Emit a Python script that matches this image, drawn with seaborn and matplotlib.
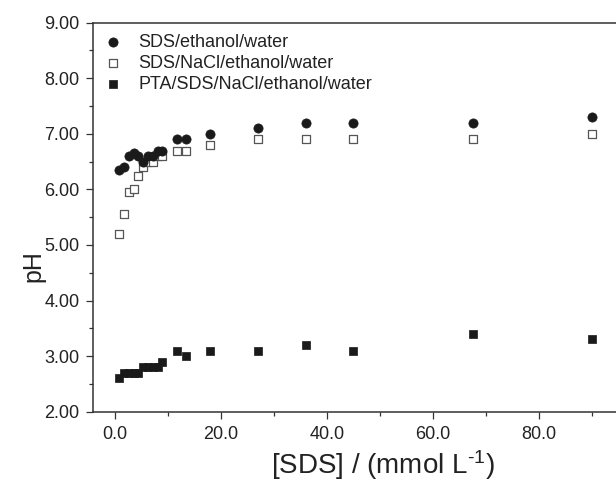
import matplotlib
matplotlib.use('Agg')
import matplotlib.pyplot as plt
import numpy as np
import pandas as pd
import seaborn as sns

# SDS concentration, mmol/L
sds = [0.9, 1.8, 2.7, 3.6, 4.5, 5.4, 6.3, 7.2, 8.1, 9.0, 11.7, 13.5, 18.0,
       27.0, 36.0, 45.0, 67.5, 90.0]

ph_sds = [6.35, 6.4, 6.6, 6.65, 6.6, 6.5, 6.6, 6.6, 6.7, 6.7, 6.9, 6.9, 7.0,
          7.1, 7.2, 7.2, 7.2, 7.3]
ph_nacl = [5.2, 5.55, 5.95, 6.0, 6.25, 6.4, 6.5, 6.5, 6.6, 6.6, 6.7, 6.7, 6.8,
           6.9, 6.9, 6.9, 6.9, 7.0]
ph_pta = [2.6, 2.7, 2.7, 2.7, 2.7, 2.8, 2.8, 2.8, 2.8, 2.9, 3.1, 3.0, 3.1,
          3.1, 3.2, 3.1, 3.4, 3.3]

labels = ['SDS/ethanol/water', 'SDS/NaCl/ethanol/water',
          'PTA/SDS/NaCl/ethanol/water']

sns.set_theme(style='ticks')
plt.rcParams['font.family'] = ['Liberation Sans', 'DejaVu Sans']
plt.rcParams['mathtext.fontset'] = 'custom'
plt.rcParams['mathtext.rm'] = 'Liberation Sans'
plt.rcParams['mathtext.default'] = 'regular'

fig = plt.figure(figsize=(6.16, 4.84), dpi=100)
ax = fig.add_axes([0.1515, 0.1494, 0.8485, 0.8037])

sns.scatterplot(x=sds, y=ph_sds, ax=ax, marker='o', s=44, color='#1a1a1a',
                edgecolor='#1a1a1a', linewidth=0.5, label=labels[0], zorder=3)
sns.scatterplot(x=sds, y=ph_nacl, ax=ax, marker='s', s=30, facecolor='white',
                edgecolor='#555555', linewidth=0.9, label=labels[1], zorder=2)
sns.scatterplot(x=sds, y=ph_pta, ax=ax, marker='s', s=32, color='#1a1a1a',
                edgecolor='#1a1a1a', linewidth=0.5, label=labels[2], zorder=3)

ax.set_xlim(-4, 94.5)
ax.set_ylim(2, 9)
ax.set_xticks([0, 20, 40, 60, 80])
ax.set_xticks([10, 30, 50, 70, 90], minor=True)
ax.set_yticks(np.arange(2, 9.01, 1))
ax.set_yticks(np.arange(2.5, 9, 1), minor=True)
ax.xaxis.set_major_formatter(matplotlib.ticker.FormatStrFormatter('%.1f'))
ax.yaxis.set_major_formatter(matplotlib.ticker.FormatStrFormatter('%.2f'))

ax.spines['right'].set_visible(False)
for s in ['left', 'bottom', 'top']:
    ax.spines[s].set_linewidth(1.1)
    ax.spines[s].set_color('#333333')
ax.tick_params(which='major', length=5, width=0.9, color='#333333',
               labelsize=13, pad=5, labelcolor='#222222')
ax.tick_params(which='minor', length=2.6, width=0.9, color='#333333')

ax.set_xlabel(r'[SDS] / (mmol L$^{\text{-}1}$)', fontsize=20, color='#222222')
ax.set_ylabel('pH', fontsize=18, color='#222222')
ax.xaxis.set_label_coords(0.554, -0.095)
ax.yaxis.set_label_coords(-0.092, 0.375)

leg = ax.legend(loc='upper left', bbox_to_anchor=(0.01, 0.99), frameon=False,
                fontsize=13, handlelength=0.8, handletextpad=1.0,
                labelspacing=0.22, borderaxespad=0)
for t in leg.get_texts():
    t.set_color('#222222')

fig.savefig('out.png', dpi=100)
